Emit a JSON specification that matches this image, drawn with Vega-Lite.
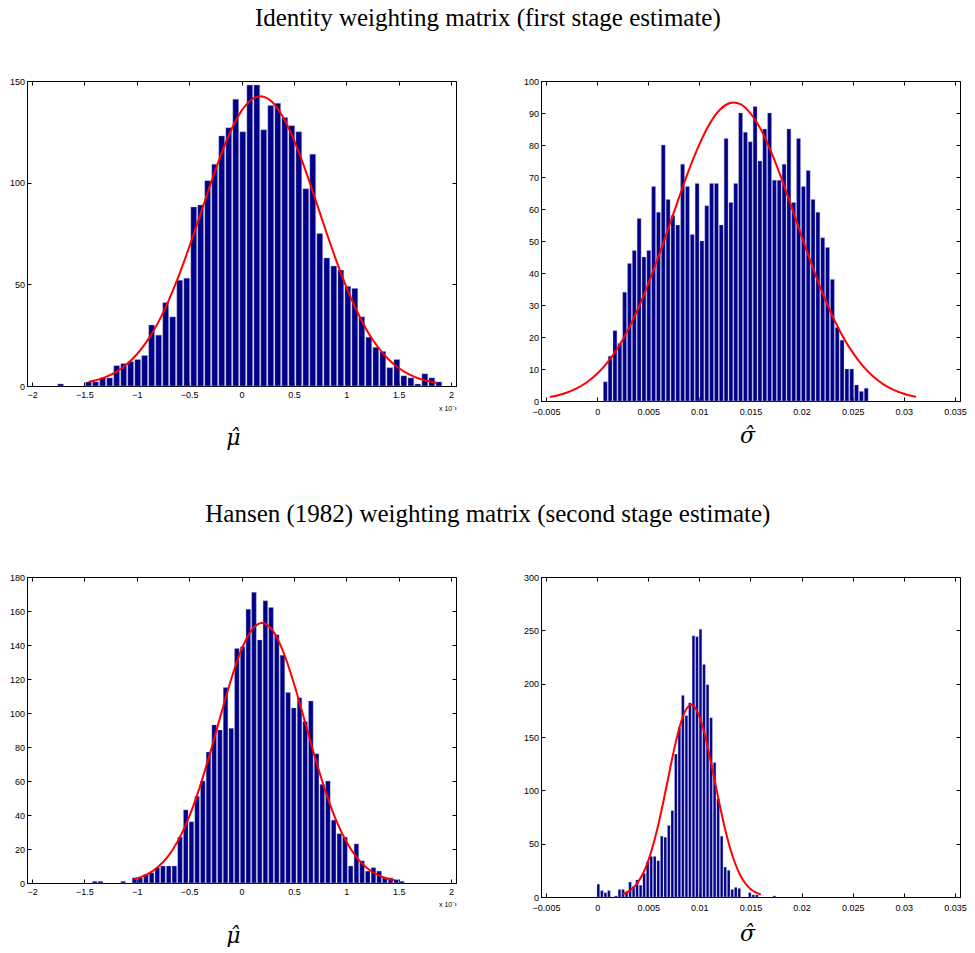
{
  "$schema": "https://vega.github.io/schema/vega-lite/v6.json",
  "background": "white",
  "padding": {"left": 8, "top": 5, "right": 0, "bottom": 0},
  "config": {
    "view": {"stroke": "black", "strokeWidth": 1},
    "axis": {
      "grid": false,
      "domainColor": "black",
      "tickColor": "black",
      "labelColor": "black",
      "labelFont": "Liberation Sans",
      "labelFontSize": 9,
      "tickSize": -4,
      "labelPadding": 6.5,
      "labelFlush": false,
      "labelOverlap": false,
      "titleFont": "DejaVu Serif",
      "titleFontStyle": "italic",
      "titleFontWeight": "normal",
      "titleFontSize": 22,
      "titleColor": "black"
    },
    "axisX": {"labelPadding": 8},
    "title": {"font": "Liberation Serif", "fontSize": 25, "fontWeight": "normal", "color": "black", "anchor": "middle"}
  },
  "datasets": {
    "p1bars": [
      {"mu_hat": -1.727, "count": 1}, {"mu_hat": -1.460, "count": 2}, {"mu_hat": -1.393, "count": 2}, {"mu_hat": -1.326, "count": 4},
      {"mu_hat": -1.259, "count": 4}, {"mu_hat": -1.192, "count": 10}, {"mu_hat": -1.125, "count": 11}, {"mu_hat": -1.058, "count": 12},
      {"mu_hat": -0.991, "count": 13}, {"mu_hat": -0.925, "count": 15}, {"mu_hat": -0.858, "count": 30}, {"mu_hat": -0.791, "count": 25},
      {"mu_hat": -0.724, "count": 41}, {"mu_hat": -0.657, "count": 34}, {"mu_hat": -0.590, "count": 52}, {"mu_hat": -0.523, "count": 53},
      {"mu_hat": -0.456, "count": 88}, {"mu_hat": -0.390, "count": 89}, {"mu_hat": -0.323, "count": 101}, {"mu_hat": -0.256, "count": 109},
      {"mu_hat": -0.189, "count": 123}, {"mu_hat": -0.122, "count": 127}, {"mu_hat": -0.055, "count": 141}, {"mu_hat": 0.012, "count": 125},
      {"mu_hat": 0.079, "count": 148}, {"mu_hat": 0.146, "count": 148}, {"mu_hat": 0.212, "count": 126}, {"mu_hat": 0.279, "count": 138},
      {"mu_hat": 0.346, "count": 139}, {"mu_hat": 0.413, "count": 132}, {"mu_hat": 0.480, "count": 128}, {"mu_hat": 0.547, "count": 125},
      {"mu_hat": 0.614, "count": 97}, {"mu_hat": 0.680, "count": 114}, {"mu_hat": 0.747, "count": 75}, {"mu_hat": 0.814, "count": 63},
      {"mu_hat": 0.881, "count": 59}, {"mu_hat": 0.948, "count": 57}, {"mu_hat": 1.015, "count": 49}, {"mu_hat": 1.082, "count": 48},
      {"mu_hat": 1.148, "count": 34}, {"mu_hat": 1.215, "count": 24}, {"mu_hat": 1.282, "count": 19}, {"mu_hat": 1.349, "count": 17},
      {"mu_hat": 1.416, "count": 9}, {"mu_hat": 1.483, "count": 13}, {"mu_hat": 1.550, "count": 5}, {"mu_hat": 1.617, "count": 4},
      {"mu_hat": 1.683, "count": 1}, {"mu_hat": 1.750, "count": 6}, {"mu_hat": 1.817, "count": 4}, {"mu_hat": 1.884, "count": 2}
    ],
    "p1curve": [
      {"mu_hat": -1.46, "fit": 1.96}, {"mu_hat": -1.4, "fit": 2.66}, {"mu_hat": -1.3, "fit": 4.34}, {"mu_hat": -1.2, "fit": 6.84},
      {"mu_hat": -1.1, "fit": 10.46}, {"mu_hat": -1.0, "fit": 15.5}, {"mu_hat": -0.9, "fit": 22.2}, {"mu_hat": -0.8, "fit": 30.8},
      {"mu_hat": -0.7, "fit": 41.5}, {"mu_hat": -0.6, "fit": 54.0}, {"mu_hat": -0.5, "fit": 68.2}, {"mu_hat": -0.4, "fit": 83.3},
      {"mu_hat": -0.3, "fit": 98.7}, {"mu_hat": -0.2, "fit": 113.2}, {"mu_hat": -0.1, "fit": 125.8}, {"mu_hat": 0.0, "fit": 135.3},
      {"mu_hat": 0.1, "fit": 141.0}, {"mu_hat": 0.18, "fit": 142.5}, {"mu_hat": 0.3, "fit": 139.3}, {"mu_hat": 0.4, "fit": 131.9},
      {"mu_hat": 0.5, "fit": 121.0}, {"mu_hat": 0.6, "fit": 107.6}, {"mu_hat": 0.7, "fit": 92.6}, {"mu_hat": 0.8, "fit": 77.2},
      {"mu_hat": 0.9, "fit": 62.4}, {"mu_hat": 1.0, "fit": 48.8}, {"mu_hat": 1.1, "fit": 37.0}, {"mu_hat": 1.2, "fit": 27.1},
      {"mu_hat": 1.3, "fit": 19.3}, {"mu_hat": 1.4, "fit": 13.3}, {"mu_hat": 1.5, "fit": 8.86}, {"mu_hat": 1.6, "fit": 5.73},
      {"mu_hat": 1.7, "fit": 3.58}, {"mu_hat": 1.8, "fit": 2.17}, {"mu_hat": 1.86, "fit": 1.58}
    ],
    "p2bars": [
      {"sigma_hat": 0.000800, "count": 6}, {"sigma_hat": 0.001273, "count": 14}, {"sigma_hat": 0.001745, "count": 22}, {"sigma_hat": 0.002218, "count": 18},
      {"sigma_hat": 0.002690, "count": 34}, {"sigma_hat": 0.003163, "count": 43}, {"sigma_hat": 0.003635, "count": 47}, {"sigma_hat": 0.004108, "count": 57},
      {"sigma_hat": 0.004580, "count": 45}, {"sigma_hat": 0.005053, "count": 47}, {"sigma_hat": 0.005525, "count": 67}, {"sigma_hat": 0.005998, "count": 59},
      {"sigma_hat": 0.006470, "count": 80}, {"sigma_hat": 0.006943, "count": 63}, {"sigma_hat": 0.007415, "count": 58}, {"sigma_hat": 0.007888, "count": 55},
      {"sigma_hat": 0.008360, "count": 74}, {"sigma_hat": 0.008833, "count": 67}, {"sigma_hat": 0.009305, "count": 52}, {"sigma_hat": 0.009778, "count": 68},
      {"sigma_hat": 0.010250, "count": 50}, {"sigma_hat": 0.010723, "count": 61}, {"sigma_hat": 0.011195, "count": 68}, {"sigma_hat": 0.011668, "count": 68},
      {"sigma_hat": 0.012140, "count": 55}, {"sigma_hat": 0.012613, "count": 82}, {"sigma_hat": 0.013085, "count": 62}, {"sigma_hat": 0.013558, "count": 68},
      {"sigma_hat": 0.014030, "count": 90}, {"sigma_hat": 0.014503, "count": 84}, {"sigma_hat": 0.014975, "count": 81}, {"sigma_hat": 0.015448, "count": 92},
      {"sigma_hat": 0.015920, "count": 75}, {"sigma_hat": 0.016393, "count": 85}, {"sigma_hat": 0.016865, "count": 90}, {"sigma_hat": 0.017338, "count": 69},
      {"sigma_hat": 0.017810, "count": 69}, {"sigma_hat": 0.018283, "count": 74}, {"sigma_hat": 0.018755, "count": 85}, {"sigma_hat": 0.019228, "count": 62},
      {"sigma_hat": 0.019700, "count": 82}, {"sigma_hat": 0.020173, "count": 67}, {"sigma_hat": 0.020645, "count": 72}, {"sigma_hat": 0.021118, "count": 63},
      {"sigma_hat": 0.021590, "count": 59}, {"sigma_hat": 0.022063, "count": 51}, {"sigma_hat": 0.022535, "count": 48}, {"sigma_hat": 0.023008, "count": 38},
      {"sigma_hat": 0.023480, "count": 23}, {"sigma_hat": 0.023953, "count": 19}, {"sigma_hat": 0.024425, "count": 10}, {"sigma_hat": 0.024898, "count": 10},
      {"sigma_hat": 0.025370, "count": 5}, {"sigma_hat": 0.025843, "count": 3}, {"sigma_hat": 0.026315, "count": 4}
    ],
    "p2curve": [
      {"sigma_hat": -0.0046, "fit": 1.23}, {"sigma_hat": -0.004, "fit": 1.63}, {"sigma_hat": -0.003, "fit": 2.57}, {"sigma_hat": -0.002, "fit": 3.93},
      {"sigma_hat": -0.001, "fit": 5.86}, {"sigma_hat": 0.0, "fit": 8.51}, {"sigma_hat": 0.001, "fit": 12.0}, {"sigma_hat": 0.002, "fit": 16.5},
      {"sigma_hat": 0.003, "fit": 22.1}, {"sigma_hat": 0.004, "fit": 28.8}, {"sigma_hat": 0.005, "fit": 36.6}, {"sigma_hat": 0.006, "fit": 45.1},
      {"sigma_hat": 0.007, "fit": 54.3}, {"sigma_hat": 0.008, "fit": 63.5}, {"sigma_hat": 0.009, "fit": 72.4}, {"sigma_hat": 0.010, "fit": 80.2},
      {"sigma_hat": 0.011, "fit": 86.6}, {"sigma_hat": 0.012, "fit": 91.0}, {"sigma_hat": 0.013, "fit": 93.1}, {"sigma_hat": 0.01335, "fit": 93.3},
      {"sigma_hat": 0.014, "fit": 92.8}, {"sigma_hat": 0.015, "fit": 89.9}, {"sigma_hat": 0.016, "fit": 84.9}, {"sigma_hat": 0.017, "fit": 78.0},
      {"sigma_hat": 0.018, "fit": 69.8}, {"sigma_hat": 0.019, "fit": 60.8}, {"sigma_hat": 0.020, "fit": 51.5}, {"sigma_hat": 0.021, "fit": 42.5},
      {"sigma_hat": 0.022, "fit": 34.1}, {"sigma_hat": 0.023, "fit": 26.7}, {"sigma_hat": 0.024, "fit": 20.3}, {"sigma_hat": 0.025, "fit": 15.1},
      {"sigma_hat": 0.026, "fit": 10.9}, {"sigma_hat": 0.027, "fit": 7.63}, {"sigma_hat": 0.028, "fit": 5.22}, {"sigma_hat": 0.029, "fit": 3.47},
      {"sigma_hat": 0.030, "fit": 2.25}, {"sigma_hat": 0.0312, "fit": 1.29}
    ],
    "p3bars": [
      {"mu_hat": -1.401, "count": 1}, {"mu_hat": -1.347, "count": 1}, {"mu_hat": -1.130, "count": 1}, {"mu_hat": -1.021, "count": 3},
      {"mu_hat": -0.967, "count": 3}, {"mu_hat": -0.912, "count": 5}, {"mu_hat": -0.858, "count": 6}, {"mu_hat": -0.804, "count": 9},
      {"mu_hat": -0.750, "count": 10}, {"mu_hat": -0.695, "count": 10}, {"mu_hat": -0.641, "count": 10}, {"mu_hat": -0.587, "count": 27},
      {"mu_hat": -0.532, "count": 43}, {"mu_hat": -0.478, "count": 36}, {"mu_hat": -0.424, "count": 51}, {"mu_hat": -0.369, "count": 60},
      {"mu_hat": -0.315, "count": 77}, {"mu_hat": -0.261, "count": 93}, {"mu_hat": -0.206, "count": 90}, {"mu_hat": -0.152, "count": 115},
      {"mu_hat": -0.098, "count": 91}, {"mu_hat": -0.044, "count": 138}, {"mu_hat": 0.011, "count": 139}, {"mu_hat": 0.065, "count": 161},
      {"mu_hat": 0.119, "count": 171}, {"mu_hat": 0.174, "count": 143}, {"mu_hat": 0.228, "count": 166}, {"mu_hat": 0.282, "count": 162},
      {"mu_hat": 0.337, "count": 146}, {"mu_hat": 0.391, "count": 134}, {"mu_hat": 0.445, "count": 112}, {"mu_hat": 0.499, "count": 103},
      {"mu_hat": 0.554, "count": 109}, {"mu_hat": 0.608, "count": 95}, {"mu_hat": 0.662, "count": 107}, {"mu_hat": 0.717, "count": 76},
      {"mu_hat": 0.771, "count": 58}, {"mu_hat": 0.825, "count": 60}, {"mu_hat": 0.880, "count": 37}, {"mu_hat": 0.934, "count": 29},
      {"mu_hat": 0.988, "count": 27}, {"mu_hat": 1.042, "count": 10}, {"mu_hat": 1.097, "count": 23}, {"mu_hat": 1.151, "count": 13},
      {"mu_hat": 1.205, "count": 7}, {"mu_hat": 1.260, "count": 9}, {"mu_hat": 1.314, "count": 7}, {"mu_hat": 1.368, "count": 3},
      {"mu_hat": 1.423, "count": 3}, {"mu_hat": 1.477, "count": 2}, {"mu_hat": 1.531, "count": 1}
    ],
    "p3curve": [
      {"mu_hat": -1.02, "fit": 2.33}, {"mu_hat": -0.9, "fit": 5.11}, {"mu_hat": -0.8, "fit": 9.25}, {"mu_hat": -0.7, "fit": 15.8},
      {"mu_hat": -0.6, "fit": 25.5}, {"mu_hat": -0.5, "fit": 38.9}, {"mu_hat": -0.4, "fit": 56.1}, {"mu_hat": -0.3, "fit": 76.4},
      {"mu_hat": -0.2, "fit": 98.3}, {"mu_hat": -0.1, "fit": 119.6}, {"mu_hat": 0.0, "fit": 137.4}, {"mu_hat": 0.1, "fit": 149.1},
      {"mu_hat": 0.195, "fit": 153.0}, {"mu_hat": 0.3, "fit": 148.3}, {"mu_hat": 0.4, "fit": 135.8}, {"mu_hat": 0.5, "fit": 117.5},
      {"mu_hat": 0.6, "fit": 96.1}, {"mu_hat": 0.7, "fit": 74.3}, {"mu_hat": 0.8, "fit": 54.2}, {"mu_hat": 0.9, "fit": 37.4},
      {"mu_hat": 1.0, "fit": 24.4}, {"mu_hat": 1.1, "fit": 15.0}, {"mu_hat": 1.2, "fit": 8.73}, {"mu_hat": 1.3, "fit": 4.81},
      {"mu_hat": 1.4, "fit": 2.5}, {"mu_hat": 1.46, "fit": 1.64}
    ],
    "p4bars": [
      {"sigma_hat": 0.000120, "count": 12}, {"sigma_hat": 0.000465, "count": 6}, {"sigma_hat": 0.000809, "count": 4}, {"sigma_hat": 0.001154, "count": 6},
      {"sigma_hat": 0.001843, "count": 1}, {"sigma_hat": 0.002187, "count": 7}, {"sigma_hat": 0.002532, "count": 7}, {"sigma_hat": 0.002876, "count": 5},
      {"sigma_hat": 0.003221, "count": 14}, {"sigma_hat": 0.003565, "count": 10}, {"sigma_hat": 0.003910, "count": 16}, {"sigma_hat": 0.004254, "count": 11},
      {"sigma_hat": 0.004599, "count": 22}, {"sigma_hat": 0.004943, "count": 33}, {"sigma_hat": 0.005288, "count": 38}, {"sigma_hat": 0.005632, "count": 38},
      {"sigma_hat": 0.005977, "count": 34}, {"sigma_hat": 0.006321, "count": 57}, {"sigma_hat": 0.006666, "count": 56}, {"sigma_hat": 0.007010, "count": 67},
      {"sigma_hat": 0.007355, "count": 81}, {"sigma_hat": 0.007699, "count": 134}, {"sigma_hat": 0.008044, "count": 159}, {"sigma_hat": 0.008388, "count": 189},
      {"sigma_hat": 0.008733, "count": 170}, {"sigma_hat": 0.009077, "count": 182}, {"sigma_hat": 0.009422, "count": 245}, {"sigma_hat": 0.009766, "count": 244},
      {"sigma_hat": 0.010111, "count": 251}, {"sigma_hat": 0.010455, "count": 218}, {"sigma_hat": 0.010800, "count": 199}, {"sigma_hat": 0.011144, "count": 168},
      {"sigma_hat": 0.011489, "count": 126}, {"sigma_hat": 0.011833, "count": 92}, {"sigma_hat": 0.012178, "count": 57}, {"sigma_hat": 0.012522, "count": 28},
      {"sigma_hat": 0.012867, "count": 25}, {"sigma_hat": 0.013211, "count": 7}, {"sigma_hat": 0.013556, "count": 9}, {"sigma_hat": 0.013900, "count": 8},
      {"sigma_hat": 0.014934, "count": 4}, {"sigma_hat": 0.015278, "count": 2}, {"sigma_hat": 0.015623, "count": 2}, {"sigma_hat": 0.017345, "count": 1}
    ],
    "p4curve": [
      {"sigma_hat": 0.0025, "fit": 2.59}, {"sigma_hat": 0.003, "fit": 4.76}, {"sigma_hat": 0.0035, "fit": 8.35}, {"sigma_hat": 0.004, "fit": 14.0},
      {"sigma_hat": 0.0045, "fit": 22.3}, {"sigma_hat": 0.005, "fit": 34.0}, {"sigma_hat": 0.0055, "fit": 49.4}, {"sigma_hat": 0.006, "fit": 68.4},
      {"sigma_hat": 0.0065, "fit": 90.4}, {"sigma_hat": 0.007, "fit": 113.9}, {"sigma_hat": 0.0075, "fit": 137.0}, {"sigma_hat": 0.008, "fit": 157.1},
      {"sigma_hat": 0.0085, "fit": 171.9}, {"sigma_hat": 0.009, "fit": 179.3}, {"sigma_hat": 0.0092, "fit": 180.0}, {"sigma_hat": 0.0095, "fit": 178.5},
      {"sigma_hat": 0.010, "fit": 169.4}, {"sigma_hat": 0.0105, "fit": 153.4}, {"sigma_hat": 0.011, "fit": 132.5}, {"sigma_hat": 0.0115, "fit": 109.2},
      {"sigma_hat": 0.012, "fit": 85.8}, {"sigma_hat": 0.0125, "fit": 64.3}, {"sigma_hat": 0.013, "fit": 46.0}, {"sigma_hat": 0.0135, "fit": 31.4},
      {"sigma_hat": 0.014, "fit": 20.4}, {"sigma_hat": 0.0145, "fit": 12.65}, {"sigma_hat": 0.015, "fit": 7.49}, {"sigma_hat": 0.0155, "fit": 4.23},
      {"sigma_hat": 0.016, "fit": 2.28}
    ]
  },
  "spacing": 52,
  "vconcat": [
    {
      "title": {"text": "Identity weighting matrix (first stage estimate)", "offset": 46},
      "spacing": 65,
      "hconcat": [
        {
          "width": 429, "height": 305,
          "resolve": {"axis": {"x": "independent", "y": "independent"}},
          "layer": [
            {
              "data": {"name": "p1bars"},
              "mark": {"type": "bar", "size": 5.8, "color": "#000086", "stroke": "#a6a6d9", "strokeWidth": 0.4},
              "encoding": {
                "x": {"field": "mu_hat", "type": "quantitative", "scale": {"domain": [-2, 2], "nice": false, "zero": false},
                      "axis": {"orient": "bottom", "values": [-2, -1.5, -1, -0.5, 0, 0.5, 1, 1.5, 2], "format": "~g", "title": "μ̂", "titlePadding": 28, "titleX": 206}},
                "y": {"field": "count", "type": "quantitative", "scale": {"domain": [0, 150], "nice": false},
                      "axis": {"orient": "left", "values": [0, 50, 100, 150], "title": null}}
              }
            },
            {
              "data": {"name": "p1curve"},
              "mark": {"type": "line", "color": "#FF0000", "strokeWidth": 2, "interpolate": "monotone"},
              "encoding": {
                "x": {"field": "mu_hat", "type": "quantitative", "axis": {"orient": "top", "values": [-2, -1.5, -1, -0.5, 0, 0.5, 1, 1.5, 2], "labels": false, "domain": false, "title": null}},
                "y": {"field": "fit", "type": "quantitative", "axis": {"orient": "right", "values": [0, 50, 100, 150], "labels": false, "domain": false, "title": null}}
              }
            },
            {
              "data": {"name": "p1curve"},
              "mark": {"type": "line", "opacity": 0},
              "encoding": {
                "x": {"field": "mu_hat", "type": "quantitative", "axis": {"orient": "bottom", "labels": false, "ticks": false, "domain": false, "title": "x 10⁻³", "titleAnchor": "end", "titleFont": "Liberation Sans", "titleFontStyle": "normal", "titleFontSize": 7, "titlePadding": 18}},
                "y": {"field": "fit", "type": "quantitative", "axis": null}
              }
            }
          ]
        },
        {
          "width": 419, "height": 320,
          "resolve": {"axis": {"x": "independent", "y": "independent"}},
          "layer": [
            {
              "data": {"name": "p2bars"},
              "mark": {"type": "bar", "size": 3.9, "color": "#000086", "stroke": "#a6a6d9", "strokeWidth": 0.4},
              "encoding": {
                "x": {"field": "sigma_hat", "type": "quantitative", "scale": {"domain": [-0.005, 0.035], "nice": false, "zero": false},
                      "axis": {"orient": "bottom", "values": [-0.005, 0, 0.005, 0.01, 0.015, 0.02, 0.025, 0.03, 0.035], "format": "~g", "labelPadding": 10, "title": "σ̂", "titlePadding": 9, "titleX": 206}},
                "y": {"field": "count", "type": "quantitative", "scale": {"domain": [0, 100], "nice": false},
                      "axis": {"orient": "left", "values": [0, 10, 20, 30, 40, 50, 60, 70, 80, 90, 100], "title": null}}
              }
            },
            {
              "data": {"name": "p2curve"},
              "mark": {"type": "line", "color": "#FF0000", "strokeWidth": 2, "interpolate": "monotone"},
              "encoding": {
                "x": {"field": "sigma_hat", "type": "quantitative", "axis": {"orient": "top", "values": [-0.005, 0, 0.005, 0.01, 0.015, 0.02, 0.025, 0.03, 0.035], "labels": false, "domain": false, "title": null}},
                "y": {"field": "fit", "type": "quantitative", "axis": {"orient": "right", "values": [0, 10, 20, 30, 40, 50, 60, 70, 80, 90, 100], "labels": false, "domain": false, "title": null}}
              }
            }
          ]
        }
      ]
    },
    {
      "title": {"text": "Hansen (1982) weighting matrix (second stage estimate)", "offset": 46},
      "spacing": 65,
      "hconcat": [
        {
          "width": 429, "height": 306,
          "resolve": {"axis": {"x": "independent", "y": "independent"}},
          "layer": [
            {
              "data": {"name": "p3bars"},
              "mark": {"type": "bar", "size": 4.6, "color": "#000086", "stroke": "#a6a6d9", "strokeWidth": 0.4},
              "encoding": {
                "x": {"field": "mu_hat", "type": "quantitative", "scale": {"domain": [-2, 2], "nice": false, "zero": false},
                      "axis": {"orient": "bottom", "values": [-2, -1.5, -1, -0.5, 0, 0.5, 1, 1.5, 2], "format": "~g", "title": "μ̂", "titlePadding": 29, "titleX": 206}},
                "y": {"field": "count", "type": "quantitative", "scale": {"domain": [0, 180], "nice": false},
                      "axis": {"orient": "left", "values": [0, 20, 40, 60, 80, 100, 120, 140, 160, 180], "title": null}}
              }
            },
            {
              "data": {"name": "p3curve"},
              "mark": {"type": "line", "color": "#FF0000", "strokeWidth": 2, "interpolate": "monotone"},
              "encoding": {
                "x": {"field": "mu_hat", "type": "quantitative", "axis": {"orient": "top", "values": [-2, -1.5, -1, -0.5, 0, 0.5, 1, 1.5, 2], "labels": false, "domain": false, "title": null}},
                "y": {"field": "fit", "type": "quantitative", "axis": {"orient": "right", "values": [0, 20, 40, 60, 80, 100, 120, 140, 160, 180], "labels": false, "domain": false, "title": null}}
              }
            },
            {
              "data": {"name": "p3curve"},
              "mark": {"type": "line", "opacity": 0},
              "encoding": {
                "x": {"field": "mu_hat", "type": "quantitative", "axis": {"orient": "bottom", "labels": false, "ticks": false, "domain": false, "title": "x 10⁻³", "titleAnchor": "end", "titleFont": "Liberation Sans", "titleFontStyle": "normal", "titleFontSize": 7, "titlePadding": 17}},
                "y": {"field": "fit", "type": "quantitative", "axis": null}
              }
            }
          ]
        },
        {
          "width": 419, "height": 320,
          "resolve": {"axis": {"x": "independent", "y": "independent"}},
          "layer": [
            {
              "data": {"name": "p4bars"},
              "mark": {"type": "bar", "size": 2.6, "color": "#000086", "stroke": "#a6a6d9", "strokeWidth": 0.3},
              "encoding": {
                "x": {"field": "sigma_hat", "type": "quantitative", "scale": {"domain": [-0.005, 0.035], "nice": false, "zero": false},
                      "axis": {"orient": "bottom", "values": [-0.005, 0, 0.005, 0.01, 0.015, 0.02, 0.025, 0.03, 0.035], "format": "~g", "labelPadding": 10, "title": "σ̂", "titlePadding": 11, "titleX": 206}},
                "y": {"field": "count", "type": "quantitative", "scale": {"domain": [0, 300], "nice": false},
                      "axis": {"orient": "left", "values": [0, 50, 100, 150, 200, 250, 300], "title": null}}
              }
            },
            {
              "data": {"name": "p4curve"},
              "mark": {"type": "line", "color": "#FF0000", "strokeWidth": 2, "interpolate": "monotone"},
              "encoding": {
                "x": {"field": "sigma_hat", "type": "quantitative", "axis": {"orient": "top", "values": [-0.005, 0, 0.005, 0.01, 0.015, 0.02, 0.025, 0.03, 0.035], "labels": false, "domain": false, "title": null}},
                "y": {"field": "fit", "type": "quantitative", "axis": {"orient": "right", "values": [0, 50, 100, 150, 200, 250, 300], "labels": false, "domain": false, "title": null}}
              }
            }
          ]
        }
      ]
    }
  ]
}
